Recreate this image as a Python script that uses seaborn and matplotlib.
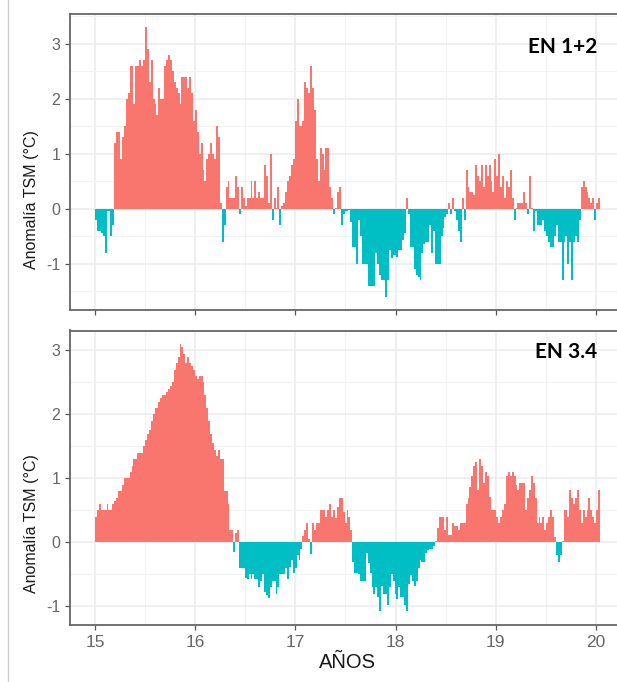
import numpy as np
import pandas as pd
import matplotlib
matplotlib.use("Agg")
import matplotlib.pyplot as plt
import seaborn as sns
from matplotlib.ticker import MultipleLocator

# ---- data: weekly SST anomalies (°C), weeks from Jan 2015 ----
en12_2015a = [-0.2, -0.4, -0.4, -0.45, -0.5, -0.8, -0.05, -0.05, -0.5, -0.3]
en12_2015b = [1.2, 1.4, 1.4, 0.9, 1.3, 1.5, 2.0, 2.1, 2.6, 2.6, 1.9, 2.6, 2.6, 2.7, 2.6, 2.7, 3.3]
en12_2015c = [2.9, 2.3, 2.7, 2.0, 1.9, 1.7, 2.2, 2.0, 2.0, 2.6, 2.7, 2.8, 2.7, 2.5, 2.3, 2.2, 2.1, 1.9,
              2.4, 2.4, 2.4, 2.2, 2.4, 2.1, 1.6, 1.8, 1.4, 1.0, 1.2, 0.7, 0.5, 0.9, 1.0, 1.2, 1.0, 0.9,
              1.5, 1.3]
en12_2016 = [0.1, -0.6, -0.3, 0.4, 0.5, 0.2, 0.2, 0.2, 0.6, 0.4, -0.1, 0.4, 0.2, 0.05, 0.2, 0.2, 0.5,
             0.2, 0.5, 0.2, 0.3, 0.2, 0.2, 0.8, 0.6, 0.1, 1.0, -0.2, 0.2, 0.02, 0.4, -0.3, 0.05, 0.1,
             0.3, 0.5, 0.6, 0.8, 0.9, 1.6, 2.0, 1.5, 1.5, 1.6, 2.3, 2.2, 2.1, 2.6, 2.2, 1.8, 0.9, 0.5,
             1.1, 1.0, 0.7, 1.1, 1.1, 0.4, 0.2, -0.1, 0.02, 0.3, 0.4, -0.3, -0.1, -0.05]
en12_2017 = [-0.05, -0.02, -0.25, -0.7, -0.7, -1.0, -0.2, -0.5, -1.0, -1.0,
             -1.0, -1.4, -1.4, -1.4, -1.4, -0.8, -1.0, -1.2, -1.3, -1.3,
             -1.6, -1.3, -0.75, -0.9, -0.85, -0.85, -0.87, -0.75, -0.75, -0.57,
             -0.45, 0.2, -0.1, -0.7, -0.7, -1.1, -1.2, -1.25, -1.3, -0.8,
             -0.65, -0.6, -0.6, -0.3, -0.8, -0.4, -1.0, -1.0, -1.0, -0.5,
             -0.35, -0.15, -0.1, 0.1, -0.1, 0.2, -0.05, -0.2, -0.4, -0.6,
             0.2, -0.2, 0.7, 0.4, 0.3, 0.3]
en12_2019 = [0.25, 0.8, 0.6, 0.5, 0.8, 0.4, 0.8, 0.6, 0.8, 0.5,
             0.3, 0.9, 0.6, 1.0, 0.4, 0.6, 0.2, 0.5, 0.4, 0.7,
             0.2, -0.2, 0.02, 0.1, 0.1, 0.1, 0.3, 0.1, -0.1, 0.6,
             0.02, -0.4, -0.05, -0.3, -0.3, -0.3, -0.2, -0.4, -0.5, -0.6,
             -0.7, -0.7, -0.5, -0.3, -0.6, -0.6, -1.3, -0.6, -0.5, -1.0,
             -0.6, -1.3, -0.6, -0.5, -0.6, -0.2, 0.4, 0.5, 0.4, 0.3,
             0.2, 0.1, 0.2, -0.2, 0.1, 0.2]

en34_2015 = [0.4, 0.5, 0.6, 0.5, 0.5, 0.5, 0.6, 0.5, 0.5, 0.6,
             0.65, 0.7, 0.8, 0.8, 0.9, 1.0, 1.0, 1.0, 1.1, 1.2,
             1.3, 1.3, 1.4, 1.4, 1.4, 1.5, 1.6, 1.7, 1.75, 1.9,
             2.0, 2.1, 2.1, 2.2, 2.25, 2.3, 2.3, 2.35, 2.4, 2.45,
             2.5, 2.7, 2.8, 2.9, 3.1, 3.05, 2.95, 2.8, 2.9, 2.8,
             2.75, 2.7, 2.6, 2.55, 2.6, 2.6, 2.5, 2.3, 2.1, 1.9,
             1.7, 1.55, 1.45, 1.35]
en34_2016 = [1.45, 1.3, 1.3, 0.8, 0.8, 0.6, 0.2, 0.2, -0.15, 0.15,
             0.2, -0.4, -0.4, -0.4, -0.56, -0.58, -0.5, -0.58, -0.5, -0.58,
             -0.58, -0.7, -0.6, -0.5, -0.77, -0.82, -0.87, -0.7, -0.6, -0.6,
             -0.8, -0.7, -0.5, -0.5, -0.5, -0.4, -0.58, -0.38, -0.28, -0.48,
             -0.4, -0.2, -0.28, -0.1, 0.1, 0.2, 0.3, 0.05, -0.18, 0.3,
             0.2, 0.3, 0.3, 0.5, 0.5, 0.5, 0.4, 0.5, 0.6, 0.4,
             0.5, 0.38, 0.55, 0.7, 0.7, 0.48, 0.3]
en34_2017 = [0.5, 0.4, 0.2, -0.3, -0.48, -0.48, -0.5, -0.6, -0.6, -0.6,
             -0.17, -0.33, -0.48, -0.7, -0.8, -0.7, -0.85, -1.08, -0.69, -0.8,
             -0.8, -0.98, -0.7, -0.5, -0.6, -0.8, -0.88, -0.7, -0.85, -0.85,
             -0.98, -1.08, -0.65, -0.51, -0.6, -0.69, -0.6, -0.4, -0.28, -0.3,
             -0.3, -0.17, -0.12, -0.1, -0.1, -0.05, 0.02, 0.22, 0.4, 0.4,
             0.4, 0.2, 0.4, 0.11, 0.11, 0.3, 0.25, 0.25, 0.2, 0.3,
             0.3, 0.3, 0.6, 0.7, 0.87, 1.03]
en34_2019 = [1.2, 1.25, 0.82, 1.3, 1.2, 0.92, 1.1, 1.03, 0.71, 0.5,
             0.5, 0.5, 0.4, 0.3, 0.4, 0.5, 0.6, 1.03, 1.1, 1.03,
             1.1, 1.03, 0.9, 0.82, 0.92, 0.92, 0.92, 0.5, 0.7, 0.82,
             1.03, 0.92, 0.7, 0.3, 0.4, 0.3, 0.4, 0.2, 0.3, 0.4,
             0.5, 0.4, 0.09, -0.2, -0.3, -0.2, 0.02, 0.5, 0.5, 0.4,
             0.82, 0.7, 0.6, 0.7, 0.82, 0.5, 0.3, 0.5, 0.4, 0.5,
             0.7, 0.5, 0.4, 0.3, 0.5, 0.82]

panel_labels = ["EN 1+2", "EN 3.4"]
x_ticks = [15, 16, 17, 18, 19, 20]
y_ticks = [-1, 0, 1, 2, 3]
start_year = 15.0

en12 = en12_2015a + en12_2015b + en12_2015c + en12_2016 + en12_2017 + en12_2019
en34 = en34_2015 + en34_2016 + en34_2017 + en34_2019


def frame(vals):
    n = len(vals)
    yr = start_year + (np.arange(n) + 0.5) * 7 / 365.25
    v = np.array(vals)
    return pd.DataFrame({"year": np.round(yr, 5), "anom": v,
                         "signo": np.where(v >= 0, "pos", "neg")})


RED, CYAN = "#F8766D", "#00BFC4"
W, H = 617, 682
fig = plt.figure(figsize=(W / 100, H / 100), dpi=100)
fig.patch.set_facecolor("white")

boxes = [(70, 626, 13.7, 310.2, (-1.845, 3.545)),
         (70, 626, 330.5, 624.9, (-1.29, 3.31))]
series = [en12, en34]
for i, (vals, (l, r, t, b, ylim)) in enumerate(zip(series, boxes)):
    ax = fig.add_axes([l / W, 1 - b / H, (r - l) / W, (b - t) / H])
    df = frame(vals)
    sns.barplot(data=df, x="year", y="anom", hue="signo", native_scale=True,
                palette={"pos": RED, "neg": CYAN}, saturation=1, dodge=False,
                errorbar=None, width=1.0, linewidth=0, legend=False, ax=ax,
                zorder=3)
    ax.set_xlim(14.75, 20.30)
    ax.set_ylim(*ylim)
    ax.set_facecolor("white")
    ax.xaxis.set_major_locator(MultipleLocator(1))
    ax.xaxis.set_minor_locator(MultipleLocator(0.5))
    ax.yaxis.set_major_locator(MultipleLocator(1))
    ax.yaxis.set_minor_locator(MultipleLocator(0.5))
    ax.grid(which="major", color="#ebebeb", linewidth=1.1, zorder=0)
    ax.grid(which="minor", color="#f2f2f2", linewidth=0.7, zorder=0)
    ax.set_axisbelow(True)
    for s in ax.spines.values():
        s.set_color("#666666")
        s.set_linewidth(1.3)
    ax.tick_params(which="major", length=3.5, width=0.9, color="#555555",
                   labelcolor="#666666", labelsize=11.5)
    ax.tick_params(which="minor", length=0)
    ax.set_yticks(y_ticks)
    ax.set_yticklabels([str(v) for v in y_ticks], fontfamily="Liberation Sans")
    ax.set_xticks(x_ticks)
    if i == 0:
        ax.set_xticklabels([])
    else:
        ax.set_xticklabels([str(v) for v in x_ticks], fontfamily="Liberation Sans",
                           fontsize=12.5)
    ax.set_xlabel("")
    ax.set_ylabel("")
    fig.text(597 / W, 1 - (47 if i == 0 else 352) / H, panel_labels[i],
             ha="right", va="center", fontsize=15, fontweight="bold",
             fontfamily="Lato", color="black")

for yc in (200, 524):
    fig.text(32 / W, 1 - yc / H, "Anomalía TSM (°C)", rotation=90, ha="center",
             va="center", fontsize=11.5, fontfamily="Liberation Sans", color="#1a1a1a")
fig.text(347 / W, 1 - 663 / H, "AÑOS", ha="center", va="center", fontsize=14.5,
         fontfamily="Liberation Sans", color="#1a1a1a")
fig.add_artist(plt.Line2D([8 / W, 8 / W], [0, 1], color="#d0d0d0", linewidth=1,
                          transform=fig.transFigure))

fig.savefig("out.png", dpi=100, facecolor="white")
